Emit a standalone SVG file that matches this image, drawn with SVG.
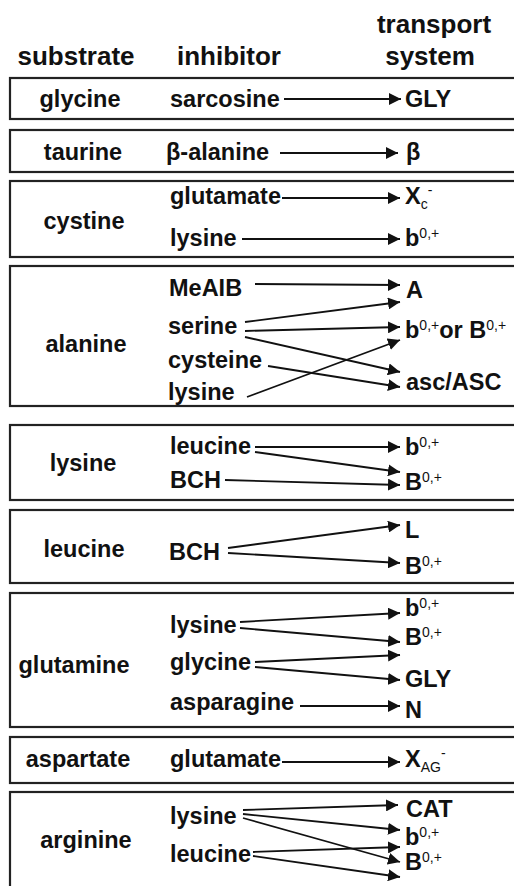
<svg xmlns="http://www.w3.org/2000/svg" width="514" height="886" viewBox="0 0 514 886">
<style>
text{font-family:"Liberation Sans",Arial,sans-serif;font-weight:bold;fill:#111}
.h{font-size:26px}
.t{font-size:23.5px}
.m{text-anchor:middle}
.s{font-size:14px;font-weight:normal}
.box{fill:none;stroke:#222;stroke-width:2.2}
.c line{stroke:#111;stroke-width:1.8;marker-end:url(#ah)}
</style>
<defs>
<marker id="ah" markerUnits="userSpaceOnUse" markerWidth="12" markerHeight="12" refX="10" refY="5" orient="auto" viewBox="0 0 10 10">
<path d="M0,0 L10,5 L0,10 Z" fill="#111"/>
</marker>
</defs>
<g id="header">
<text class="h m" x="76" y="65">substrate</text>
<text class="h" x="177" y="65">inhibitor</text>
<text class="h m" x="434" y="33">transport</text>
<text class="h m" x="430" y="65">system</text>
</g>
<g id="glycine">
<rect class="box" x="10" y="78" width="520" height="41"/>
<text class="t m" x="80" y="107">glycine</text>
<text class="t" x="170" y="107">sarcosine</text>
<text class="t" x="405" y="107">GLY</text>
</g>
<g id="taurine">
<rect class="box" x="10" y="130" width="520" height="42"/>
<text class="t m" x="83" y="160">taurine</text>
<text class="t" x="166" y="160">β-alanine</text>
<text class="t" x="406" y="160">β</text>
</g>
<g id="cystine">
<rect class="box" x="10" y="181" width="520" height="76"/>
<text class="t m" x="84" y="229">cystine</text>
<text class="t" x="170" y="204">glutamate</text>
<text class="t" x="170" y="246">lysine</text>
<text class="t" x="405" y="204">X<tspan class="s" dy="5">c</tspan><tspan class="s" dy="-14" font-size="12">-</tspan></text>
<text class="t" x="405" y="246">b<tspan class="s" dy="-8">0,+</tspan></text>
</g>
<g id="alanine">
<rect class="box" x="10" y="266" width="520" height="140"/>
<text class="t m" x="86" y="352">alanine</text>
<text class="t" x="169" y="296">MeAIB</text>
<text class="t" x="168" y="334">serine</text>
<text class="t" x="168" y="368">cysteine</text>
<text class="t" x="168" y="400">lysine</text>
<text class="t" x="406" y="298">A</text>
<text class="t" x="405" y="338">b<tspan class="s" dy="-8">0,+</tspan><tspan dy="8">or B</tspan><tspan class="s" dy="-8">0,+</tspan></text>
<text class="t" x="406" y="390">asc/ASC</text>
</g>
<g id="lysine">
<rect class="box" x="10" y="425" width="520" height="75"/>
<text class="t m" x="83" y="471">lysine</text>
<text class="t" x="170" y="454">leucine</text>
<text class="t" x="170" y="488">BCH</text>
<text class="t" x="405" y="455">b<tspan class="s" dy="-8">0,+</tspan></text>
<text class="t" x="405" y="490">B<tspan class="s" dy="-8">0,+</tspan></text>
</g>
<g id="leucine">
<rect class="box" x="10" y="510" width="520" height="73"/>
<text class="t m" x="84" y="557">leucine</text>
<text class="t" x="169" y="560">BCH</text>
<text class="t" x="405" y="538">L</text>
<text class="t" x="405" y="574">B<tspan class="s" dy="-8">0,+</tspan></text>
</g>
<g id="glutamine">
<rect class="box" x="10" y="593" width="520" height="134"/>
<text class="t m" x="74" y="673">glutamine</text>
<text class="t" x="170" y="633">lysine</text>
<text class="t" x="170" y="670">glycine</text>
<text class="t" x="170" y="710">asparagine</text>
<text class="t" x="405" y="616">b<tspan class="s" dy="-8">0,+</tspan></text>
<text class="t" x="405" y="645">B<tspan class="s" dy="-8">0,+</tspan></text>
<text class="t" x="405" y="687">GLY</text>
<text class="t" x="405" y="718">N</text>
</g>
<g id="aspartate">
<rect class="box" x="10" y="737" width="520" height="46"/>
<text class="t m" x="78" y="767">aspartate</text>
<text class="t" x="170" y="767">glutamate</text>
<text class="t" x="405" y="767">X<tspan class="s" dy="5">AG</tspan><tspan class="s" dy="-14" font-size="12">-</tspan></text>
</g>
<g id="arginine">
<rect class="box" x="10" y="792" width="520" height="110"/>
<text class="t m" x="86" y="848">arginine</text>
<text class="t" x="170" y="824">lysine</text>
<text class="t" x="170" y="862">leucine</text>
<text class="t" x="406" y="817">CAT</text>
<text class="t" x="405" y="845">b<tspan class="s" dy="-8">0,+</tspan></text>
<text class="t" x="405" y="870">B<tspan class="s" dy="-8">0,+</tspan></text>
</g>
<g id="connectors" class="c">
<line x1="284" y1="99" x2="401" y2="99"/>
<line x1="280" y1="153" x2="398" y2="153"/>
<line x1="282" y1="198" x2="400" y2="198"/>
<line x1="242" y1="239" x2="400" y2="239"/>
<line x1="255" y1="284" x2="400" y2="285"/>
<line x1="245" y1="322" x2="400" y2="302"/>
<line x1="245" y1="331" x2="400" y2="327"/>
<line x1="245" y1="337" x2="400" y2="372"/>
<line x1="268" y1="366" x2="400" y2="387"/>
<line x1="247" y1="397" x2="400" y2="340"/>
<line x1="255" y1="447" x2="400" y2="447"/>
<line x1="255" y1="452" x2="400" y2="472"/>
<line x1="225" y1="480" x2="400" y2="485"/>
<line x1="228" y1="548" x2="400" y2="525"/>
<line x1="228" y1="553" x2="400" y2="563"/>
<line x1="240" y1="622" x2="400" y2="613"/>
<line x1="240" y1="628" x2="400" y2="642"/>
<line x1="255" y1="662" x2="400" y2="655"/>
<line x1="255" y1="667" x2="400" y2="680"/>
<line x1="300" y1="706" x2="400" y2="706"/>
<line x1="282" y1="762" x2="400" y2="762"/>
<line x1="243" y1="810" x2="398" y2="805"/>
<line x1="243" y1="814" x2="400" y2="830"/>
<line x1="243" y1="818" x2="400" y2="862"/>
<line x1="253" y1="852" x2="400" y2="847"/>
<line x1="253" y1="856" x2="400" y2="877"/>
</g>
</svg>
